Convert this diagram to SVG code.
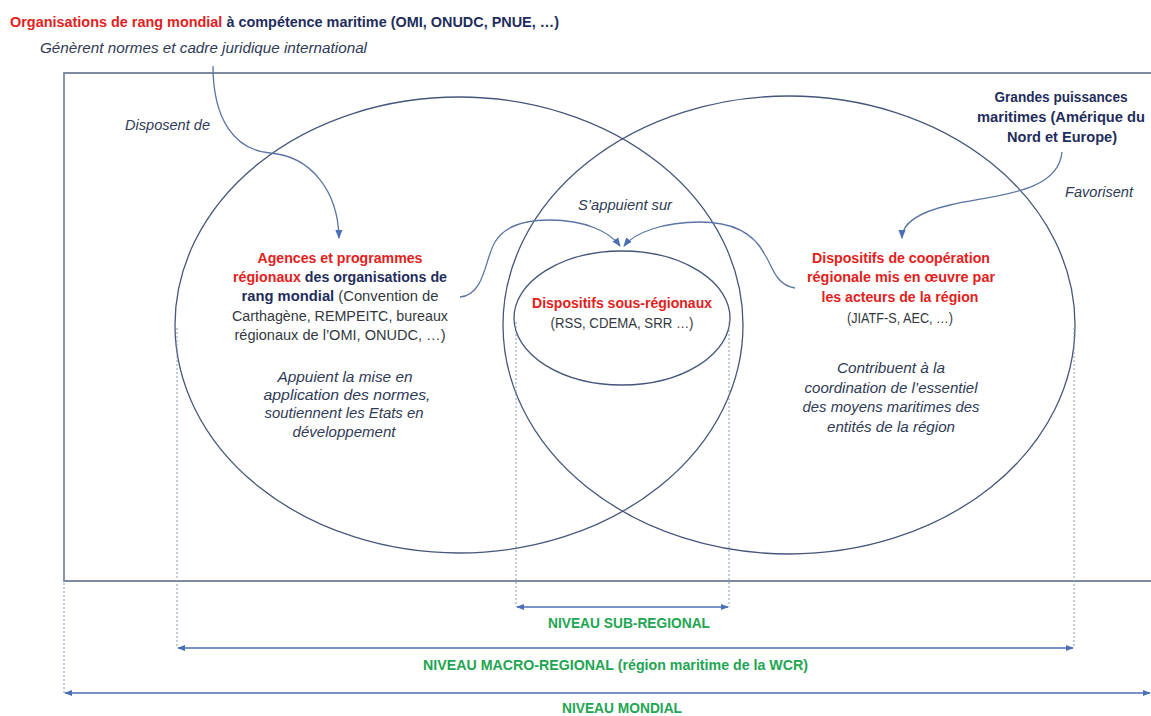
<svg xmlns="http://www.w3.org/2000/svg" width="1151" height="716" viewBox="0 0 1151 716">
<style>
text{font-family:"Liberation Sans",Arial,sans-serif;font-size:14px;}
.b{font-weight:bold;}
.i{font-style:italic;fill:#2F3A56;}
.red{fill:#E3211C;font-weight:bold;}
.nav{fill:#1F2D5C;font-weight:bold;}
.reg{fill:#333840;}
.grn{fill:#22A552;font-weight:bold;}
.m{text-anchor:middle;}
.ell{fill:none;stroke:#46567A;stroke-width:1.3;}
.con{fill:none;stroke:#5B74A3;stroke-width:1.3;}
.dot{fill:none;stroke:#8A98B5;stroke-width:1;stroke-dasharray:2 2;}
.lvl{fill:none;stroke:#4A6FB5;stroke-width:1.3;marker-start:url(#ah);marker-end:url(#ah);}
</style>
<defs>
<marker id="ah" viewBox="0 0 10 10" refX="9" refY="5" markerWidth="8" markerHeight="8" markerUnits="userSpaceOnUse" orient="auto-start-reverse">
<path d="M0,1 L10,5 L0,9 z" fill="#4A6FB5"/>
</marker>
<marker id="ac" viewBox="0 0 10 10" refX="9" refY="5" markerWidth="9" markerHeight="9" markerUnits="userSpaceOnUse" orient="auto">
<path d="M0,1 L10,5 L0,9 z" fill="#4A6FB5"/>
</marker>
</defs>
<rect width="1151" height="716" fill="#ffffff"/>

<g id="frame">
<path d="M1151,73 H64 V581 H1151" fill="none" stroke="#7D8AA0" stroke-width="1.8"/>
</g>

<g id="ellipses">
<ellipse class="ell" cx="459" cy="325" rx="284" ry="228"/>
<ellipse class="ell" cx="789" cy="325" rx="286" ry="229"/>
<ellipse class="ell" cx="622" cy="318" rx="108" ry="67"/>
</g>

<g id="connectors">
<path class="con" d="M213,66 C213,120 235,150 270,153 C310,156 338,190 339,238" marker-end="url(#ac)"/>
<path class="con" d="M1062,152 C1058,195 990,195 950,205 C915,213 902,225 902,238" marker-end="url(#ac)"/>
<path class="con" d="M460,297 C485,295 485,258 495,242 C505,225 525,220 550,220 C585,220 610,232 620,246" marker-end="url(#ac)"/>
<path class="con" d="M795,288 C775,285 772,265 765,255 C755,235 735,222 700,222 C665,222 635,232 624,246" marker-end="url(#ac)"/>
</g>

<g id="guides">
<line class="dot" x1="177" y1="328" x2="177" y2="648"/>
<line class="dot" x1="1074" y1="328" x2="1074" y2="648"/>
<line class="dot" x1="516" y1="322" x2="516" y2="607"/>
<line class="dot" x1="729" y1="322" x2="729" y2="607"/>
<line class="dot" x1="64" y1="583" x2="64" y2="693"/>
<line class="lvl" x1="517" y1="607" x2="728" y2="607"/>
<line class="lvl" x1="178" y1="648" x2="1073" y2="648"/>
<line class="lvl" x1="65" y1="693" x2="1150" y2="693"/>
</g>

<g id="node-global">
<text x="10" y="27" textLength="549" lengthAdjust="spacingAndGlyphs"><tspan class="red">Organisations de rang mondial</tspan><tspan class="nav"> à compétence maritime (OMI, ONUDC, PNUE, …)</tspan></text>
<text class="i" x="40" y="53" textLength="327" lengthAdjust="spacingAndGlyphs">Génèrent normes et cadre juridique international</text>
</g>

<g id="label-disposent">
<text class="i" x="125" y="130" textLength="85" lengthAdjust="spacingAndGlyphs">Disposent de</text>
</g>

<g id="node-agences">
<text class="m red" x="340" y="263" textLength="165" lengthAdjust="spacingAndGlyphs">Agences et programmes</text>
<text class="m" x="340" y="282" textLength="214" lengthAdjust="spacingAndGlyphs"><tspan class="red">régionaux</tspan><tspan class="nav"> des organisations de</tspan></text>
<text class="m" x="340" y="301" textLength="197" lengthAdjust="spacingAndGlyphs"><tspan class="nav">rang mondial</tspan><tspan class="reg"> (Convention de</tspan></text>
<text class="m reg" x="340" y="321" textLength="216" lengthAdjust="spacingAndGlyphs">Carthagène, REMPEITC, bureaux</text>
<text class="m reg" x="340" y="340" textLength="211" lengthAdjust="spacingAndGlyphs">régionaux de l’OMI, ONUDC, …)</text>
<text class="m i" x="345" y="382" textLength="135" lengthAdjust="spacingAndGlyphs">Appuient la mise en</text>
<text class="m i" x="347" y="400" textLength="167" lengthAdjust="spacingAndGlyphs">application des normes,</text>
<text class="m i" x="344" y="418" textLength="159" lengthAdjust="spacingAndGlyphs">soutiennent les Etats en</text>
<text class="m i" x="344" y="437" textLength="103" lengthAdjust="spacingAndGlyphs">développement</text>
</g>

<g id="label-appuient">
<text class="m i" x="625" y="210" textLength="94" lengthAdjust="spacingAndGlyphs">S’appuient sur</text>
</g>

<g id="node-sous-regionaux">
<text class="m red" x="622" y="308" textLength="180" lengthAdjust="spacingAndGlyphs">Dispositifs sous-régionaux</text>
<text class="m reg" x="622" y="328" textLength="143" lengthAdjust="spacingAndGlyphs">(RSS, CDEMA, SRR …)</text>
</g>

<g id="node-grandes-puissances">
<text class="m nav" x="1061" y="102" textLength="133" lengthAdjust="spacingAndGlyphs">Grandes puissances</text>
<text class="m nav" x="1061" y="122" textLength="168" lengthAdjust="spacingAndGlyphs">maritimes (Amérique du</text>
<text class="m nav" x="1062" y="142" textLength="110" lengthAdjust="spacingAndGlyphs">Nord et Europe)</text>
</g>

<g id="label-favorisent">
<text class="m i" x="1099" y="197" textLength="68" lengthAdjust="spacingAndGlyphs">Favorisent</text>
</g>

<g id="node-cooperation">
<text class="m red" x="901" y="263" textLength="178" lengthAdjust="spacingAndGlyphs">Dispositifs de coopération</text>
<text class="m red" x="901" y="282" textLength="188" lengthAdjust="spacingAndGlyphs">régionale mis en œuvre par</text>
<text class="m red" x="900" y="302" textLength="157" lengthAdjust="spacingAndGlyphs">les acteurs de la région</text>
<text class="m reg" x="900" y="323" textLength="106" lengthAdjust="spacingAndGlyphs">(JIATF-S, AEC, …)</text>
<text class="m i" x="891" y="373" textLength="108" lengthAdjust="spacingAndGlyphs">Contribuent à la</text>
<text class="m i" x="891" y="393" textLength="173" lengthAdjust="spacingAndGlyphs">coordination de l’essentiel</text>
<text class="m i" x="891" y="412" textLength="177" lengthAdjust="spacingAndGlyphs">des moyens maritimes des</text>
<text class="m i" x="891" y="432" textLength="128" lengthAdjust="spacingAndGlyphs">entités de la région</text>
</g>

<g id="levels">
<text class="m grn" x="629" y="628" textLength="162" lengthAdjust="spacingAndGlyphs">NIVEAU SUB-REGIONAL</text>
<text class="m grn" x="615.5" y="670" textLength="385" lengthAdjust="spacingAndGlyphs">NIVEAU MACRO-REGIONAL (région maritime de la WCR)</text>
<text class="m grn" x="622" y="713" textLength="120" lengthAdjust="spacingAndGlyphs">NIVEAU MONDIAL</text>
</g>
</svg>
